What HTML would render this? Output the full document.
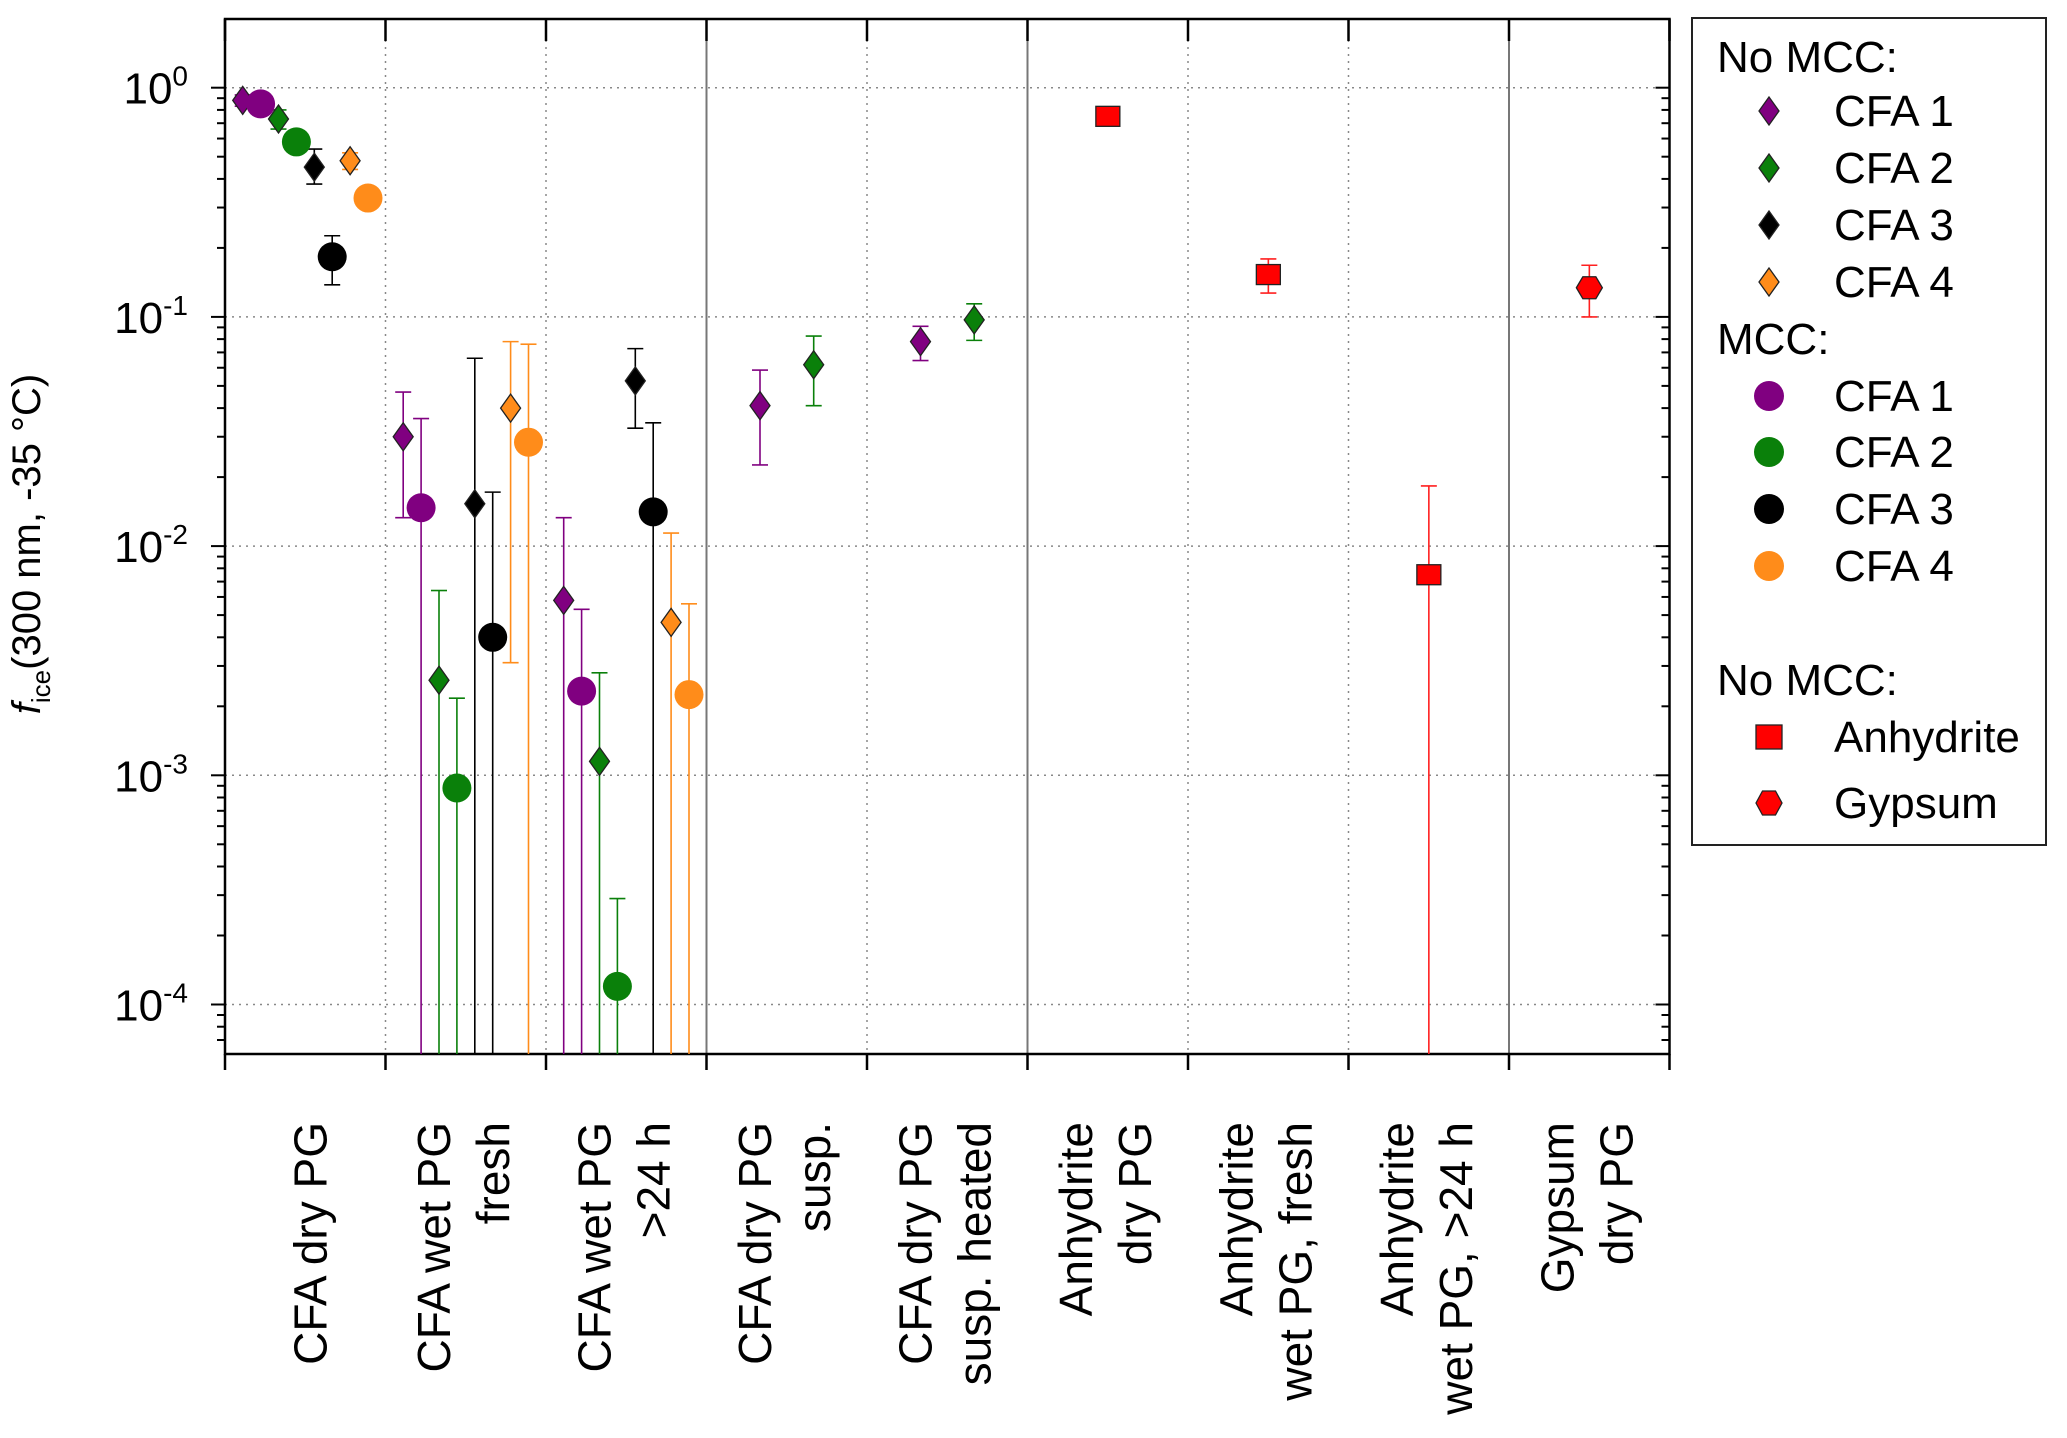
<!DOCTYPE html>
<html><head><meta charset="utf-8"><style>
html,body{margin:0;padding:0;background:#fff}
svg{display:block;font-family:"Liberation Sans",sans-serif}
</style></head><body>
<svg id="chart" width="2067" height="1438" viewBox="0 0 2067 1438"></svg>
<script>
const categories=[["CFA dry PG"],["CFA wet PG","fresh"],["CFA wet PG",">24 h"],["CFA dry PG","susp."],["CFA dry PG","susp. heated"],["Anhydrite","dry PG"],["Anhydrite","wet PG, fresh"],["Anhydrite","wet PG, >24 h"],["Gypsum","dry PG"]];
const yTickExps=[0,-1,-2,-3,-4];
const cfa1Dia=[0.88,0.030,0.0058,0.041,0.078,null,null,null,null];
const cfa1DiaLo=[0.83,0.0133,0,0.0226,0.0645,null,null,null,null];
const cfa1DiaHi=[0.93,0.047,0.0133,0.0586,0.091,null,null,null,null];
const cfa2Dia=[0.73,0.0026,0.00115,0.0618,0.097,null,null,null,null];
const cfa2DiaLo=[0.66,0,0,0.041,0.079,null,null,null,null];
const cfa2DiaHi=[0.80,0.0064,0.0028,0.0825,0.114,null,null,null,null];
const cfa3Dia=[0.45,0.0153,0.0526,null,null,null,null,null,null];
const cfa3DiaLo=[0.38,0,0.0327,null,null,null,null,null,null];
const cfa3DiaHi=[0.54,0.066,0.0727,null,null,null,null,null,null];
const cfa4Dia=[0.48,0.040,0.00465,null,null,null,null,null,null];
const cfa4DiaLo=[0.44,0.0031,0,null,null,null,null,null,null];
const cfa4DiaHi=[0.52,0.078,0.0114,null,null,null,null,null,null];
const cfa1Circ=[0.85,0.0147,0.00233];
const cfa1CircLo=[null,0,0];
const cfa1CircHi=[null,0.036,0.0053];
const cfa2Circ=[0.58,0.00088,0.00012];
const cfa2CircLo=[null,0,0];
const cfa2CircHi=[null,0.00217,0.00029];
const cfa3Circ=[0.183,0.0040,0.0141];
const cfa3CircLo=[0.138,0,0];
const cfa3CircHi=[0.226,0.0172,0.0345];
const cfa4Circ=[0.33,0.0284,0.00225];
const cfa4CircLo=[null,0,0];
const cfa4CircHi=[null,0.076,0.0056];
const anhydrite=[null,null,null,null,null,0.75,0.153,0.0075,null];
const anhydriteLo=[null,null,null,null,null,null,0.127,0,null];
const anhydriteHi=[null,null,null,null,null,null,0.179,0.0183,null];
const gypsum=[null,null,null,null,null,null,null,null,0.134];
const gypsumLo=[null,null,null,null,null,null,null,null,0.10];
const gypsumHi=[null,null,null,null,null,null,null,null,0.168];

const NS="http://www.w3.org/2000/svg";
const svg=document.getElementById('chart');
const L=225,R=1669.5,T=19,B=1054,catW=(R-L)/9;
const y0=87.7,dec=229.2;
const yScale=v=>y0-Math.log10(v)*dec;
const xCat=(c,slot)=>L+c*catW+17.7+slot*17.9;
function mk(tag,attrs,parent){const e=document.createElementNS(NS,tag);for(const k in attrs)e.setAttribute(k,attrs[k]);(parent||svg).appendChild(e);return e;}

for(const e of yTickExps){const y=yScale(Math.pow(10,e));const g=mk('line',{x1:L,x2:R,y1:y,y2:y,stroke:'#888','stroke-width':1.5,'stroke-dasharray':'2,5'});

}
const solidBounds=[3,5,8];
for(let c=1;c<9;c++){const x=L+c*catW;const solid=solidBounds.includes(c);
const g=mk('line',{x1:x,x2:x,y1:T,y2:B,stroke:solid?'#777':'#888','stroke-width':solid?2:1.5,'stroke-dasharray':solid?'none':'2,5'});

}
const fr=mk('rect',{x:L,y:T,width:R-L,height:B-T,fill:'none',stroke:'#000','stroke-width':2.5});


for(let e=0;e>=-5;e--){for(let m=1;m<10;m++){const v=m*Math.pow(10,e);const y=yScale(v);if(y<T||y>B)continue;const len=m===1?14:8;
mk('line',{x1:L-len,x2:L,y1:y,y2:y,stroke:'#000','stroke-width':2});
mk('line',{x1:R-len,x2:R,y1:y,y2:y,stroke:'#000','stroke-width':2});}}
for(const e of yTickExps){const y=yScale(Math.pow(10,e));
const t=mk('text',{x:188,y:y+16,'text-anchor':'end','font-size':44});


t.innerHTML='10<tspan dy="-18" font-size="28">'+e+'</tspan>';}
for(let c=0;c<=9;c++){const x=L+c*catW;mk('line',{x1:x,x2:x,y1:B,y2:B+16,stroke:'#000','stroke-width':2.5});mk('line',{x1:x,x2:x,y1:T,y2:T+22,stroke:'#000','stroke-width':2.5});}
categories.forEach((lines,c)=>{const cx=L+(c+0.5)*catW;
const offs=lines.length===1?[5]:[-32,27];
lines.forEach((s,i)=>{const bx=cx+offs[i]+16;
const t=mk('text',{x:0,y:0,transform:`translate(${bx},1122) rotate(-90)`,'text-anchor':'end','font-size':46});


t.textContent=s;});});
const yt=mk('text',{transform:'translate(40,544) rotate(-90)','text-anchor':'middle','font-size':40});


yt.innerHTML='<tspan font-style="italic">f</tspan><tspan dy="10" font-size="26">ice</tspan><tspan dy="-10">(300 nm, -35 °C)</tspan>';

function errbar(x,v,lo,hi,col){
  if(hi!=null){const yh=yScale(hi);mk('line',{x1:x,x2:x,y1:yh,y2:yScale(v),stroke:col,'stroke-width':1.6});mk('line',{x1:x-8,x2:x+8,y1:yh,y2:yh,stroke:col,'stroke-width':1.6});}
  if(lo!=null){const yl=lo===0?B:yScale(lo);mk('line',{x1:x,x2:x,y1:yScale(v),y2:yl,stroke:col,'stroke-width':1.6});if(lo!==0)mk('line',{x1:x-8,x2:x+8,y1:yl,y2:yl,stroke:col,'stroke-width':1.6});}
}
function diamond(x,y,col,p){return mk('polygon',{points:`${x},${y-14} ${x+10},${y} ${x},${y+14} ${x-10},${y}`,fill:col,stroke:'#222','stroke-width':1.3},p);}
const diaSeries=[[cfa1Dia,cfa1DiaLo,cfa1DiaHi,'#800080',0],[cfa2Dia,cfa2DiaLo,cfa2DiaHi,'#0a800a',2],[cfa3Dia,cfa3DiaLo,cfa3DiaHi,'#000',4],[cfa4Dia,cfa4DiaLo,cfa4DiaHi,'#ff8c1a',6]];
const circSeries=[[cfa1Circ,cfa1CircLo,cfa1CircHi,'#800080',1],[cfa2Circ,cfa2CircLo,cfa2CircHi,'#0a800a',3],[cfa3Circ,cfa3CircLo,cfa3CircHi,'#000',5],[cfa4Circ,cfa4CircLo,cfa4CircHi,'#ff8c1a',7]];
diaSeries.forEach(([vals,lo,hi,col,slot],si)=>{vals.forEach((v,c)=>{if(v==null)return;
const s=c>=3?(si===0?2:5):slot;const x=xCat(c,s);errbar(x,v,lo[c],hi[c],col);
const d=diamond(x,yScale(v),col);

});});
circSeries.forEach(([vals,lo,hi,col,slot],si)=>{vals.forEach((v,c)=>{if(v==null)return;const x=xCat(c,slot);errbar(x,v,lo[c],hi[c],col);
const d=mk('circle',{cx:x,cy:yScale(v),r:14.5,fill:col});

});});
anhydrite.forEach((v,c)=>{if(v==null)return;const x=xCat(c,3.5);errbar(x,v,anhydriteLo[c],anhydriteHi[c],'#ff2020');
const d=mk('rect',{x:x-12,y:yScale(v)-10,width:24,height:20,fill:'#ff0000',stroke:'#222','stroke-width':1.3});

});
gypsum.forEach((v,c)=>{if(v==null)return;const x=xCat(c,3.5);errbar(x,v,gypsumLo[c],gypsumHi[c],'#ff2020');const y=yScale(v);
const d=mk('polygon',{points:`${x-13},${y} ${x-6.5},${y-11} ${x+6.5},${y-11} ${x+13},${y} ${x+6.5},${y+11} ${x-6.5},${y+11}`,fill:'#ff0000',stroke:'#222','stroke-width':1.3});

});

const lg=mk('g',{});


mk('rect',{x:1692,y:18,width:354,height:827,fill:'#fff',stroke:'#222','stroke-width':2},lg);
const rows=[['h','No MCC:',57],['d','CFA 1',111,'#800080'],['d','CFA 2',168,'#0a800a'],['d','CFA 3',225,'#000'],['d','CFA 4',282,'#ff8c1a'],['h','MCC:',339],['c','CFA 1',396,'#800080'],['c','CFA 2',452,'#0a800a'],['c','CFA 3',509,'#000'],['c','CFA 4',566,'#ff8c1a'],['h','No MCC:',680],['s','Anhydrite',737],['x','Gypsum',803]];
rows.forEach(r=>{const [k,txt,y,col]=r;
if(k==='h'){const t=mk('text',{x:1717,y:y+15,'font-size':44},lg);t.textContent=txt;

return;}
const x=1769;
if(k==='d')diamond(x,y,col,lg);
if(k==='c')mk('circle',{cx:x,cy:y,r:15,fill:col},lg);
if(k==='s')mk('rect',{x:x-13,y:y-12,width:26,height:24,fill:'#ff0000',stroke:'#222','stroke-width':1.3},lg);
if(k==='x')mk('polygon',{points:`${x-13},${y} ${x-6.5},${y-12} ${x+6.5},${y-12} ${x+13},${y} ${x+6.5},${y+12} ${x-6.5},${y+12}`,fill:'#ff0000',stroke:'#222','stroke-width':1.3},lg);
const t=mk('text',{x:1834,y:y+15,'font-size':44},lg);t.textContent=txt;

});
</script>
</body></html>
